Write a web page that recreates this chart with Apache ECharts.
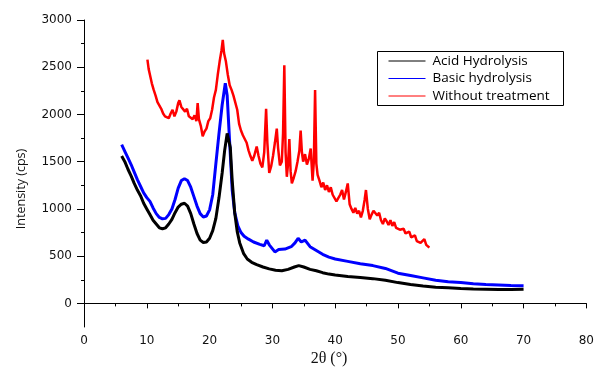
<!DOCTYPE html>
<html>
<head>
<meta charset="utf-8">
<script src="https://cdn.jsdelivr.net/npm/echarts@6/dist/echarts.min.js"></script>
<style>html,body{margin:0;padding:0;background:#fff}#c{width:597px;height:375px}</style>
</head>
<body>
<div id="c"></div>
<script>
const seriesNames = ['Acid Hydrolysis', 'Basic hydrolysis', 'Without treatment'];
const xTickValues = [0, 10, 20, 30, 40, 50, 60, 70, 80];
const yTickValues = [0, 500, 1000, 1500, 2000, 2500, 3000];
const yMinorTickValues = [250, 750, 1250, 1750, 2250, 2750];

const acidHydrolysis = [[6.0,1560],[6.5,1500],[7.0,1420],[7.5,1350],[8.0,1270],[8.5,1200],[9.0,1140],[9.5,1060],[10.0,1000],[10.5,940],[11.0,880],[11.5,840],[12.0,800],[12.5,790],[13.0,800],[13.5,840],[14.0,890],[14.5,960],[15.0,1020],[15.5,1050],[16.0,1060],[16.5,1030],[17.0,950],[17.5,840],[18.0,740],[18.5,670],[19.0,645],[19.5,650],[20.0,690],[20.5,770],[21.0,900],[21.5,1120],[22.0,1380],[22.4,1620],[22.8,1800],[23.0,1820],[23.3,1650],[23.6,1300],[24.0,960],[24.4,760],[24.8,640],[25.4,530],[26.0,470],[26.7,435],[27.5,410],[28.5,385],[29.5,365],[30.5,350],[31.5,345],[32.5,360],[33.5,385],[34.2,400],[35.0,385],[36.0,360],[37.0,345],[38.0,325],[39.0,310],[40.0,300],[42.0,285],[44.0,275],[46.0,262],[48.0,245],[50.0,220],[52.0,200],[54.0,185],[56.0,172],[58.0,165],[60.0,158],[62.0,152],[64.0,150],[66.0,148],[68.0,146],[70.0,150]];

const basicHydrolysis = [[6.0,1680],[6.5,1610],[7.0,1540],[7.5,1470],[8.0,1390],[8.5,1310],[9.0,1240],[9.5,1170],[10.0,1120],[10.5,1080],[11.0,1010],[11.5,950],[12.0,910],[12.5,895],[13.0,900],[13.5,940],[14.0,1000],[14.5,1100],[15.0,1220],[15.5,1300],[16.0,1320],[16.5,1300],[17.0,1230],[17.5,1130],[18.0,1030],[18.5,950],[19.0,915],[19.5,925],[20.0,990],[20.5,1150],[21.0,1480],[21.5,1800],[22.0,2100],[22.5,2330],[22.8,2200],[23.2,1700],[23.6,1200],[24.0,960],[24.5,820],[25.0,750],[25.5,710],[26.2,680],[27.0,650],[28.0,625],[28.7,610],[29.1,670],[29.5,620],[30.4,545],[31.0,570],[32.0,575],[33.0,600],[33.6,640],[34.1,690],[34.6,650],[35.2,670],[36.0,600],[37.0,560],[38.0,520],[39.0,490],[40.0,470],[42.0,445],[44.0,420],[46.0,400],[48.0,370],[50.0,320],[52.0,295],[54.0,270],[56.0,245],[58.0,230],[60.0,220],[62.0,208],[64.0,200],[66.0,195],[68.0,190],[70.0,188]];

const withoutTreatment = [[10.1,2580],[10.3,2480],[10.5,2420],[10.8,2330],[11.1,2260],[11.4,2200],[11.7,2130],[12.0,2110],[12.3,2060],[12.6,2010],[12.9,1980],[13.2,2000],[13.5,1960],[13.8,2010],[14.1,2050],[14.4,1980],[14.7,2030],[15.0,2120],[15.2,2150],[15.5,2080],[15.8,2100],[16.1,2030],[16.4,2060],[16.7,1980],[17.0,2000],[17.3,1950],[17.6,1990],[17.9,1930],[18.1,2120],[18.3,1950],[18.6,1880],[18.9,1770],[19.2,1820],[19.5,1850],[19.8,1930],[20.1,1960],[20.4,2050],[20.7,2180],[21.0,2260],[21.3,2420],[21.6,2560],[21.9,2680],[22.1,2790],[22.3,2650],[22.6,2560],[22.9,2420],[23.2,2310],[23.5,2260],[23.8,2200],[24.1,2180],[24.4,2050],[24.7,1900],[25.0,1830],[25.3,1780],[25.6,1760],[25.9,1700],[26.2,1620],[26.5,1560],[26.8,1510],[27.1,1560],[27.5,1660],[27.8,1560],[28.1,1480],[28.4,1440],[28.7,1600],[29.0,2060],[29.2,1700],[29.5,1380],[29.8,1450],[30.1,1560],[30.4,1700],[30.7,1850],[30.9,1650],[31.2,1460],[31.5,1500],[31.7,1800],[31.9,2520],[32.1,1600],[32.3,1340],[32.5,1480],[32.7,1740],[32.9,1400],[33.1,1270],[33.4,1330],[33.7,1400],[34.0,1500],[34.3,1620],[34.5,1830],[34.7,1600],[34.9,1500],[35.2,1580],[35.5,1470],[35.8,1530],[36.1,1640],[36.4,1300],[36.6,1500],[36.8,2260],[37.0,1480],[37.2,1360],[37.5,1300],[37.8,1230],[38.1,1280],[38.4,1200],[38.7,1250],[39.0,1180],[39.3,1230],[39.6,1150],[39.9,1130],[40.2,1080],[40.5,1060],[40.8,1150],[41.1,1200],[41.4,1100],[41.7,1180],[42.0,1270],[42.3,1050],[42.6,1000],[42.9,960],[43.2,1010],[43.5,950],[43.8,980],[44.1,910],[44.4,980],[44.7,1100],[44.9,1200],[45.2,1000],[45.5,890],[45.8,940],[46.1,980],[46.4,1000],[46.7,930],[47.0,960],[47.3,880],[47.6,840],[47.9,900],[48.2,870],[48.5,830],[48.8,880],[49.1,820],[49.4,860],[49.7,800],[50.0,820],[50.3,780],[50.6,760],[50.9,790],[51.2,740],[51.5,720],[51.8,760],[52.1,700],[52.4,690],[52.7,720],[53.0,660],[53.3,680],[53.6,640],[53.9,620],[54.2,680],[54.5,620],[54.8,600],[55.0,590]];

const colors = ['#000000', '#0000ff', '#ff0000'];
const tickFont = 'DejaVu Sans';
const plain = v => String(v);

const chart = echarts.init(document.getElementById('c'), null, {renderer: 'canvas'});
chart.setOption({
  animation: false,
  backgroundColor: '#ffffff',
  grid: {left: 84, right: 6, top: 20, bottom: 48},
  xAxis: {
    type: 'value', min: 0, max: 80, interval: 10,
    axisLine: {show: true, lineStyle: {color: '#000', width: 1}},
    axisTick: {show: true, length: 5, lineStyle: {color: '#000'}},
    minorTick: {show: true, splitNumber: 2, length: 3, lineStyle: {color: '#000'}},
    splitLine: {show: false},
    axisLabel: {color: '#111', fontFamily: tickFont, fontSize: 12, margin: 8, customValues: xTickValues, formatter: plain}
  },
  yAxis: [{
    type: 'value', min: -250, max: 3000,
    axisLine: {show: true, lineStyle: {color: '#000', width: 1}},
    axisTick: {show: true, length: 7, lineStyle: {color: '#000'}, customValues: yTickValues},
    splitLine: {show: false},
    axisLabel: {color: '#111', fontFamily: tickFont, fontSize: 12, margin: 12, customValues: yTickValues, formatter: plain}
  }, {
    type: 'value', min: -250, max: 3000, position: 'left',
    axisLine: {show: false},
    axisTick: {show: true, length: 3, lineStyle: {color: '#000'}, customValues: yMinorTickValues},
    splitLine: {show: false},
    axisLabel: {show: false}
  }],
  legend: {
    orient: 'vertical', left: 388, top: 54,
    data: seriesNames,
    itemWidth: 37, itemHeight: 14, itemGap: 3.5, padding: 0,
    lineStyle: {width: 1},
    itemStyle: {opacity: 0},
    textStyle: {fontFamily: 'Open Sans', fontSize: 13.5, color: '#000', lineHeight: 14, padding: [0, 0, 0, 2]}
  },
  graphic: [
    {type: 'rect', shape: {x: 377.5, y: 51.5, width: 186, height: 54}, style: {fill: 'none', stroke: '#000', lineWidth: 1}, z: 100},
    {type: 'text', x: 21, y: 189, rotation: Math.PI / 2,
      style: {text: 'Intensity (cps)', fontFamily: 'Open Sans', fontSize: 12.5, fill: '#111', textAlign: 'center', textVerticalAlign: 'middle'}},
    {type: 'text', x: 329, y: 359,
      style: {text: '2θ (°)', fontFamily: 'Liberation Serif', fontSize: 16, fill: '#111', textAlign: 'center', textVerticalAlign: 'middle'}}
  ],
  series: [
    {name: seriesNames[2], type: 'line', data: withoutTreatment, symbol: 'none', color: colors[2], lineStyle: {width: 2.5, color: colors[2]}, z: 2},
    {name: seriesNames[1], type: 'line', data: basicHydrolysis, symbol: 'none', color: colors[1], lineStyle: {width: 3, color: colors[1]}, z: 3},
    {name: seriesNames[0], type: 'line', data: acidHydrolysis, symbol: 'none', color: colors[0], lineStyle: {width: 3, color: colors[0]}, z: 4}
  ]
});
</script>
</body>
</html>
